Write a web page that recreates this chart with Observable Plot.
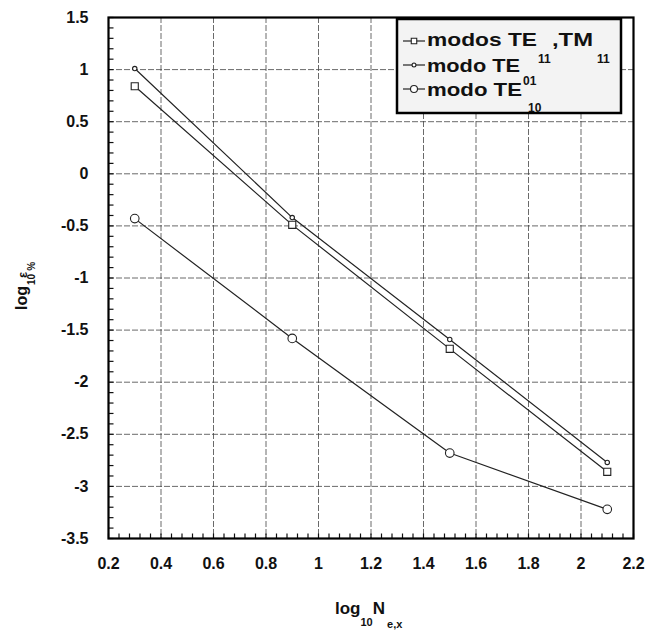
<!DOCTYPE html>
<html><head><meta charset="utf-8">
<script src="https://cdn.jsdelivr.net/npm/d3@7"></script>
<script src="https://cdn.jsdelivr.net/npm/@observablehq/plot@0.6"></script>
<style>
body{margin:0;background:#fff}
#chart{position:relative;width:648px;height:636px}
</style>
</head><body><div id="chart"></div>
<script>
// ---- data ----
const xValues = [0.3, 0.9, 1.5, 2.1];
const seriesTE11TM11 = [0.84, -0.49, -1.68, -2.86];   // squares
const seriesTE11 = [1.01, -0.42, -1.59, -2.77];       // small dots
const seriesTE01_10 = [-0.43, -1.58, -2.68, -3.22];   // circles
const seriesNames = ["modos TE11,TM11", "modo TE11", "modo TE01_10"];

const xTicks = [0.2, 0.4, 0.6, 0.8, 1.0, 1.2, 1.4, 1.6, 1.8, 2.0, 2.2];
const xTickLabels = ["0.2","0.4","0.6","0.8","1","1.2","1.4","1.6","1.8","2","2.2"];
const yTicks = [-3.5, -3, -2.5, -2, -1.5, -1, -0.5, 0, 0.5, 1, 1.5];
const yTickLabels = ["-3.5","-3","-2.5","-2","-1.5","-1","-0.5","0","0.5","1","1.5"];
const xMinor = [];
for (let i = 0; i <= 50; i++) xMinor.push(Math.round((0.2 + i * 0.04) * 100) / 100);
const yMinor = [];
for (let i = 0; i <= 50; i++) yMinor.push(Math.round((-3.5 + i * 0.1) * 10) / 10);

const rows = [];
[seriesTE11TM11, seriesTE11, seriesTE01_10].forEach((s, i) =>
  s.forEach((v, j) => rows.push({series: seriesNames[i], x: xValues[j], y: v})));

const W = 648, H = 636, ML = 108, MR = 15, MT = 17, MB = 98;
const xDom = [0.2, 2.2], yDom = [-3.5, 1.5];
const PW = W - ML - MR, PH = H - MT - MB, TICK = 5;
const tx = TICK / PW * (xDom[1] - xDom[0]);
const ty = TICK / PH * (yDom[1] - yDom[0]);
const minorX = xMinor.map(v => ({x: v, y1: yDom[0], y2: yDom[0] + ty}));
const minorY = yMinor.map(v => ({y: v, x1: xDom[0], x2: xDom[0] + tx}));

const ink = "#222";
const fmtX = d => xTickLabels[xTicks.findIndex(t => Math.abs(t - d) < 1e-9)];
const fmtY = d => yTickLabels[yTicks.findIndex(t => Math.abs(t - d) < 1e-9)];

const plot = Plot.plot({
  width: W, height: H,
  marginLeft: ML, marginRight: MR, marginTop: MT, marginBottom: MB,
  style: {fontFamily: "'Liberation Sans', Arial, sans-serif", fontSize: "16px", fontWeight: "bold", color: "#111", background: "#fff"},
  x: {domain: xDom},
  y: {domain: yDom},
  marks: [
    Plot.gridX(xTicks, {stroke: "#444", strokeOpacity: 1, strokeWidth: 0.8, strokeDasharray: "6,2"}),
    Plot.gridY(yTicks, {stroke: "#444", strokeOpacity: 1, strokeWidth: 0.8, strokeDasharray: "6,2"}),
    Plot.link(minorX, {x1: "x", x2: "x", y1: "y1", y2: "y2", stroke: "#111", strokeWidth: 1.2}),
    Plot.link(minorY, {y1: "y", y2: "y", x1: "x1", x2: "x2", stroke: "#111", strokeWidth: 1.2}),
    Plot.axisX(xTicks, {tickSize: 0, tickPadding: 19, tickFormat: fmtX, label: null, fontSize: 16}),
    Plot.axisY(yTicks, {tickSize: 0, tickPadding: 20, tickFormat: fmtY, label: null, fontSize: 16}),
    Plot.line(rows, {x: "x", y: "y", z: "series", stroke: ink, strokeWidth: 1.2}),
    Plot.dot(rows.filter(d => d.series === seriesNames[0]), {x: "x", y: "y", symbol: "square", r: 4, fill: "#fff", stroke: ink, strokeWidth: 1.1}),
    Plot.dot(rows.filter(d => d.series === seriesNames[1]), {x: "x", y: "y", symbol: "circle", r: 2.2, fill: "#fff", stroke: ink, strokeWidth: 1.1}),
    Plot.dot(rows.filter(d => d.series === seriesNames[2]), {x: "x", y: "y", symbol: "circle", r: 4.3, fill: "#fff", stroke: ink, strokeWidth: 1.1}),
    Plot.frame({stroke: "#000", strokeWidth: 2.2})
  ]
});
document.getElementById("chart").appendChild(plot);

// ---- annotations: axis labels and legend ----
const svg = d3.select(plot);
const F = "'Liberation Sans', Arial, sans-serif";

// x label
const xl = svg.append("text").attr("x", 335).attr("y", 614).attr("text-anchor", "start")
  .attr("font-family", F).attr("font-weight", "bold").attr("font-size", 17).attr("fill", "#111");
xl.append("tspan").text("log");
xl.append("tspan").attr("dy", 12).attr("font-size", 11).text("10");
xl.append("tspan").attr("dy", -12).text("N");
xl.append("tspan").attr("dy", 14).attr("dx", 2).attr("font-size", 11).text("e,x");

// y label
const yl = svg.append("text").attr("transform", "translate(27,310) rotate(-90)").attr("text-anchor", "start")
  .attr("font-family", F).attr("font-weight", "bold").attr("font-size", 16).attr("fill", "#111");
yl.append("tspan").text("log");
yl.append("tspan").attr("dy", 8).attr("dx", 1).attr("font-size", 10).text("10");
yl.append("tspan").attr("dy", -8).attr("dx", -4).attr("font-size", 13).text("ε");
yl.append("tspan").attr("dy", 8).attr("dx", 1).attr("font-size", 10).text("%");

// legend
const lg = svg.append("g").attr("text-anchor", "start");
lg.append("rect").attr("x", 397).attr("y", 19).attr("width", 224).attr("height", 94)
  .attr("fill", "#f3f3f3").attr("stroke", "#000").attr("stroke-width", 2.5);
const legendY = [41, 65, 89];
const syms = [d3.symbolSquare, d3.symbolCircle, d3.symbolCircle];
const symSize = [30, 12, 38];
legendY.forEach((y, i) => {
  lg.append("line").attr("x1", 403).attr("x2", 425).attr("y1", y).attr("y2", y).attr("stroke", ink).attr("stroke-width", 1.2);
  lg.append("path").attr("transform", `translate(414,${y})`).attr("d", d3.symbol(syms[i], symSize[i])())
    .attr("fill", "#fff").attr("stroke", ink).attr("stroke-width", 1.1);
});
function t(x, y, s, size, len) {
  const e = lg.append("text").attr("x", x).attr("y", y).attr("font-family", F).attr("font-weight", "bold")
    .attr("font-size", size).attr("fill", "#111").attr("text-anchor", "start").text(s);
  if (len) e.attr("textLength", len).attr("lengthAdjust", "spacingAndGlyphs");
  return e;
}
t(427, 46, "modos TE", 19, 110);
t(538, 63, "11", 12);
t(552, 46, ",TM", 19, 41);
t(597, 63, "11", 12);
t(427, 72, "modo TE", 19, 93);
t(427, 96, "modo TE", 19, 95);
t(523, 85, "01", 12);
t(528, 112, "10", 12);
</script>
</body></html>
